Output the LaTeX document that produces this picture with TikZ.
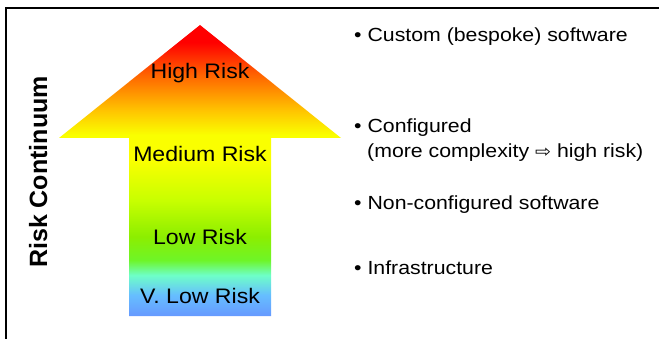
\documentclass[tikz,border=0pt]{standalone}
\usepackage{fontspec}
\setmainfont{Liberation Sans}
\newfontfamily\symbolfont{DejaVu Sans}

% colour ramp of the risk arrow, from bottom (low) to top (high)
\definecolor{rkblue}{RGB}{102,153,255}
\definecolor{rksky}{RGB}{102,190,255}
\definecolor{rkcyan}{RGB}{110,255,200}
\definecolor{rkgreen}{RGB}{110,245,40}
\definecolor{rklime}{RGB}{140,238,0}
\definecolor{rkyelgreen}{RGB}{200,255,0}
\definecolor{rkyellow}{RGB}{250,255,0}
\definecolor{rkgold}{RGB}{255,195,0}
\definecolor{rkorange}{RGB}{255,100,0}
\definecolor{rkred}{RGB}{255,0,0}

\pgfdeclareverticalshading{riskshade}{100bp}{%
  color(0bp)=(rkblue); color(25bp)=(rkblue);
  color(28.6bp)=(rksky); color(32bp)=(rkcyan);
  color(34.6bp)=(rkgreen); color(38.6bp)=(rklime);
  color(44.9bp)=(rkyelgreen); color(51.8bp)=(rkyellow);
  color(56.1bp)=(rkyellow); color(60.4bp)=(rkgold);
  color(66.4bp)=(rkorange); color(72bp)=(rkred);
  color(75bp)=(rkred); color(100bp)=(rkred)}

\begin{document}
\begin{tikzpicture}[x=1pt,y=-1pt,
  frameline/.style={line width=2pt,black},
  levellabel/.style={inner sep=0pt,anchor=base,xscale=1.1,
    font=\fontsize{21}{25}\selectfont,text=black},
  itemlabel/.style={inner sep=0pt,anchor=base west,xscale=1.12,
    font=\fontsize{19}{25}\selectfont,text=black},
  axislabel/.style={inner sep=0pt,anchor=base,rotate=90,
    font=\fontsize{25}{30}\selectfont\bfseries}]
\useasboundingbox (0,0) rectangle (659,339);

% open frame: top and left rules
\coordinate (fbl) at (6,339);
\coordinate (ftl) at (6,8);
\coordinate (ftr) at (659,8);
\draw[frameline] (fbl) -- (ftl) -- (ftr);

% the risk arrow
\shade[shading=riskshade]
  (200,25) -- (341,138) -- (271,138) -- (271,316)
  -- (129,316) -- (129,138) -- (59,138) -- cycle;

% levels inside the arrow
\node[levellabel] (high) at (200,79) {High Risk};
\node[levellabel] (medium) at (200,162) {Medium Risk};
\node[levellabel] (low) at (200,245) {Low Risk};
\node[levellabel] (vlow) at (200,304) {V. Low Risk};

% vertical axis title
\node[axislabel] (axis) at (47,172) {Risk Continuum};

% software categories
\node[itemlabel] (custom) at (354,42) {\textbullet\ Custom (bespoke) software};
\node[itemlabel] (config) at (354,133) {\textbullet\ Configured};
\node[itemlabel] (config2) at (367,158) {(more complexity {\symbolfont\fontsize{17}{17}\selectfont ⇨} high risk)};
\node[itemlabel] (nonconfig) at (354,210) {\textbullet\ Non-configured software};
\node[itemlabel] (infra) at (354,275) {\textbullet\ Infrastructure};
\end{tikzpicture}
\end{document}
